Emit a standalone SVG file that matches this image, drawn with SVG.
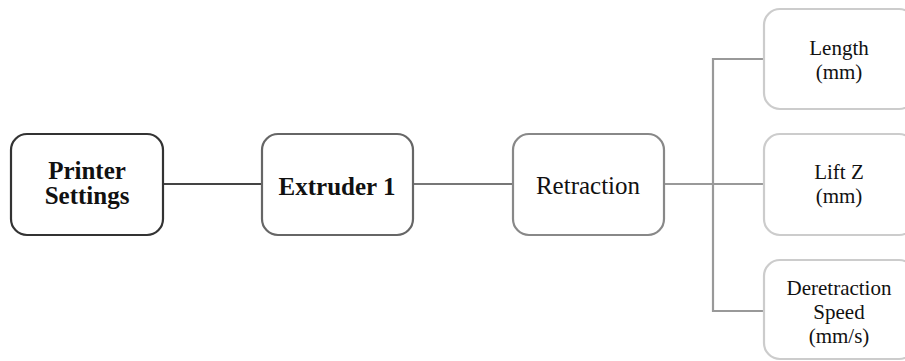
<svg xmlns="http://www.w3.org/2000/svg" width="905" height="361" viewBox="0 0 905 361">
<style>
text{font-family:"Liberation Serif","Times New Roman",serif;text-anchor:middle;fill:#111}
.b{font-weight:bold;font-size:25px}
.r{font-size:25px}
.l{font-size:21px}
rect{fill:#fff;stroke-width:2.2}
.conn line,.conn polyline{fill:none;stroke-width:2.2}
</style>
<rect width="905" height="361" fill="#fff" style="stroke:none"/>
<g class="conn" id="connectors">
<line x1="163" y1="184" x2="262" y2="184" stroke="#444"/>
<line x1="413" y1="184" x2="513" y2="184" stroke="#777"/>
<line x1="664" y1="184" x2="764" y2="184" stroke="#999"/>
<polyline points="764,59 713,59 713,311 764,311" stroke="#999"/>
</g>
<g id="printer-settings">
<rect x="11" y="134" width="152" height="101" rx="16" stroke="#333"/>
<text class="b" x="87" y="179">Printer</text>
<text class="b" x="87" y="204">Settings</text>
</g>
<g id="extruder-1">
<rect x="262" y="134" width="151" height="101" rx="16" stroke="#666"/>
<text class="b" x="337" y="195">Extruder 1</text>
</g>
<g id="retraction">
<rect x="513" y="134" width="151" height="101" rx="16" stroke="#888"/>
<text class="r" x="588" y="194">Retraction</text>
</g>
<g id="length">
<rect x="764" y="9" width="151" height="100" rx="16" stroke="#ccc"/>
<text class="l" x="839" y="55">Length</text>
<text class="l" x="839" y="79">(mm)</text>
</g>
<g id="lift-z">
<rect x="764" y="134" width="151" height="101" rx="16" stroke="#ccc"/>
<text class="l" x="839" y="179">Lift Z</text>
<text class="l" x="839" y="203">(mm)</text>
</g>
<g id="deretraction-speed">
<rect x="764" y="260" width="151" height="99" rx="16" stroke="#ccc"/>
<text class="l" x="839" y="295">Deretraction</text>
<text class="l" x="839" y="319">Speed</text>
<text class="l" x="839" y="343">(mm/s)</text>
</g>
</svg>
